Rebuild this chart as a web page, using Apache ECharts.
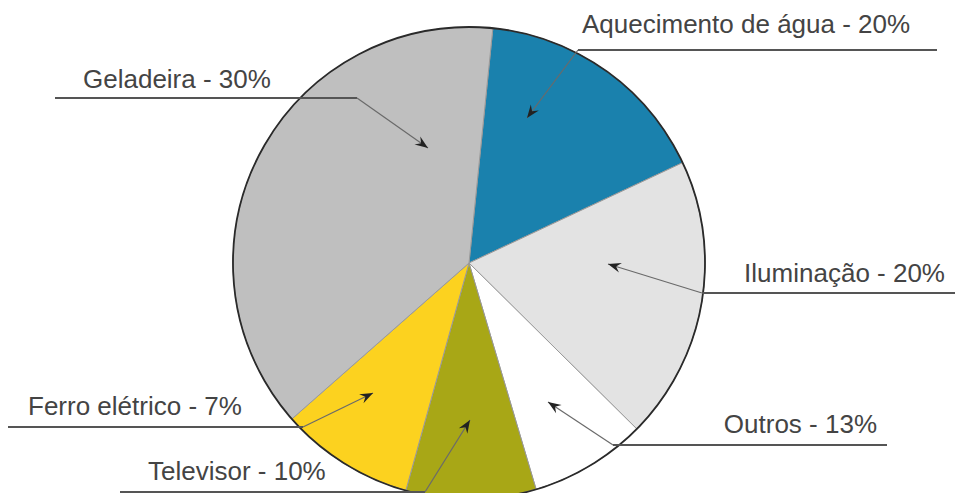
<!DOCTYPE html>
<html>
<head>
<meta charset="utf-8">
<script src="https://cdn.jsdelivr.net/npm/echarts@6/dist/echarts.min.js"></script>
<style>html,body{margin:0;padding:0;background:#fff}#c{width:955px;height:493px}</style>
</head>
<body>
<div id="c"></div>
<script>
// Categories in clockwise order from the top
const categories = ['Aquecimento de água', 'Iluminação', 'Outros', 'Televisor', 'Ferro elétrico', 'Geladeira'];
// Printed percentages (label text)
const labelPercents = [20, 20, 13, 10, 7, 30];
// Slice sizes as drawn in the picture (share of the circle, %)
const drawnShares = [16.4, 19.4, 8.0, 8.9, 9.2, 38.1];
const colors = ['#1a81ad', '#e3e3e3', '#ffffff', '#a8a716', '#fcd21f', '#bfbfbf'];

// Annotation layout (text position, underline, arrow)
const annot = [
  {tx: 582, ty: 24, line: [[937, 50], [578, 50]], arrow: [[578, 50], [527, 118]]},
  {tx: 634, ty: 273, line: [[955, 293], [702, 293]], arrow: [[702, 293], [608, 264]]},
  {tx: 615, ty: 424, line: [[887, 445], [613, 445]], arrow: [[613, 445], [548, 402]]},
  {tx: 148, ty: 471, line: [[120, 492], [425, 492]], arrow: [[425, 492], [470, 420]]},
  {tx: 28, ty: 406, line: [[8, 427], [303, 427]], arrow: [[303, 427], [373, 393]]},
  {tx: 83, ty: 79, line: [[55, 98], [357, 98]], arrow: [[357, 98], [428, 148]]}
];
const textAlignRight = [false, true, true, false, false, false];
const textRightX = [0, 945, 877, 0, 0, 0];

const chart = echarts.init(document.getElementById('c'), null, {renderer: 'svg'});

const graphics = [];
annot.forEach((a, i) => {
  const label = categories[i] + ' - ' + labelPercents[i] + '%';
  graphics.push({
    type: 'polyline', z: 10, silent: true,
    shape: {points: a.line},
    style: {stroke: '#555', lineWidth: 2, fill: null}
  });
  const [p0, p1] = a.arrow;
  graphics.push({
    type: 'polyline', z: 11, silent: true,
    shape: {points: [p0, p1]},
    style: {stroke: '#6a6a6a', lineWidth: 1.2, fill: null}
  });
  const dx = p1[0] - p0[0], dy = p1[1] - p0[1];
  const L = Math.hypot(dx, dy), ux = dx / L, uy = dy / L;
  const hl = 13, hw = 5;
  const bx = p1[0] - ux * hl, by = p1[1] - uy * hl;
  const mx = p1[0] - ux * hl * 0.65, my = p1[1] - uy * hl * 0.65;
  graphics.push({
    type: 'polygon', z: 12, silent: true,
    shape: {points: [p1, [bx - uy * hw, by + ux * hw], [mx, my], [bx + uy * hw, by - ux * hw]]},
    style: {fill: '#222', stroke: null}
  });
  graphics.push({
    type: 'text', z: 13, silent: true,
    x: textAlignRight[i] ? textRightX[i] : a.tx, y: a.ty,
    style: {
      text: label, fill: '#444',
      font: '26px "Liberation Sans", Arial, sans-serif',
      align: textAlignRight[i] ? 'right' : 'left', verticalAlign: 'middle'
    }
  });
});

chart.setOption({
  animation: false,
  backgroundColor: '#fff',
  series: [
    {
      type: 'pie', center: [469, 263], radius: 236, startAngle: 84.2,
      clockwise: true, silent: true,
      label: {show: false}, labelLine: {show: false},
      itemStyle: {borderColor: '#999', borderWidth: 1},
      data: categories.map((c, i) => ({name: c, value: drawnShares[i], itemStyle: {color: colors[i]}}))
    },
    {
      type: 'pie', center: [469, 263], radius: 236, silent: true, z: 3,
      label: {show: false}, labelLine: {show: false},
      itemStyle: {color: 'rgba(0,0,0,0)', borderColor: '#2a2a2a', borderWidth: 1.8},
      data: [{name: 'rim', value: 1}]
    }
  ],
  graphic: graphics
});
</script>
</body>
</html>
